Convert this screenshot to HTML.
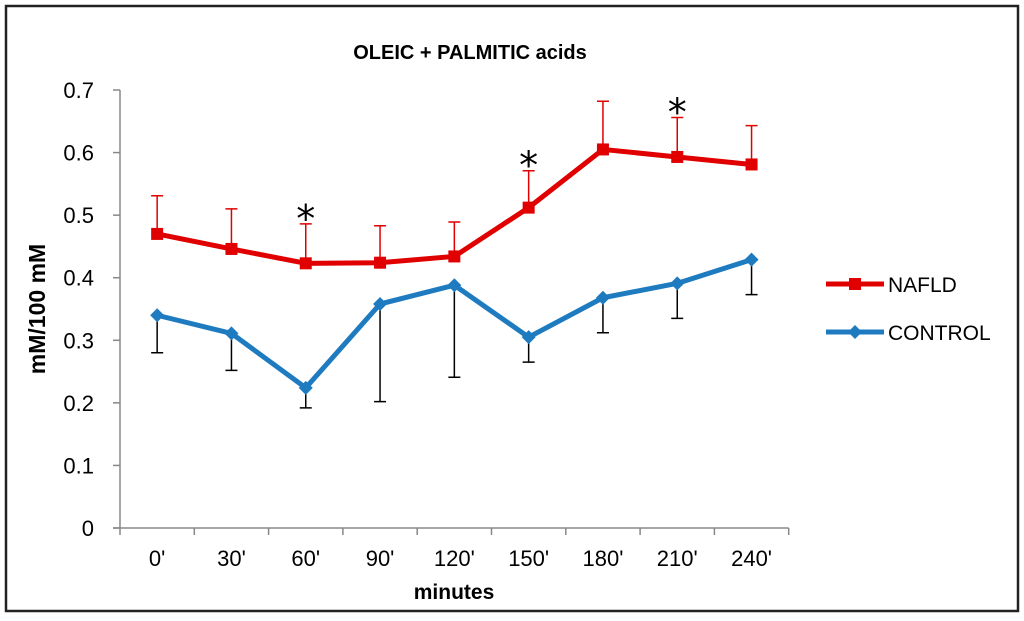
<!DOCTYPE html>
<html><head><meta charset="utf-8"><style>
html,body{margin:0;padding:0;background:#fff;}
svg{display:block;font-family:"Liberation Sans","DejaVu Sans",sans-serif;}
</style></head><body>
<svg id="chart" width="1024" height="621" viewBox="0 0 1024 621">
<rect x="6" y="6" width="1012" height="605" fill="#fff" stroke="#222" stroke-width="2.5"/>
<text x="470" y="59" text-anchor="middle" font-size="20" font-weight="bold">OLEIC + PALMITIC acids</text>
<text transform="translate(45,309) rotate(-90)" text-anchor="middle" font-size="23" font-weight="bold">mM/100 mM</text>
<text x="454" y="599" text-anchor="middle" font-size="21" font-weight="bold">minutes</text>
<g id="axes"></g>
<g id="series"></g>
<g>
<line x1="826" y1="284" x2="884" y2="284" stroke="#e00000" stroke-width="5"/>
<rect x="849" y="278" width="12" height="12" fill="#e00000"/>
<text x="888" y="292" font-size="21">NAFLD</text>
<line x1="826" y1="332" x2="884" y2="332" stroke="#1f7bc0" stroke-width="5"/>
<polygon points="855,325 862,332 855,339 848,332" fill="#1f7bc0"/>
<text x="888" y="340" font-size="21">CONTROL</text>
</g>
</svg>
<script>
const categories = ["0'","30'","60'","90'","120'","150'","180'","210'","240'"];
const nafld = [0.470,0.446,0.423,0.424,0.434,0.512,0.605,0.593,0.581];
const nafldErrUpper = [0.531,0.510,0.486,0.483,0.489,0.571,0.682,0.656,0.643];
const control = [0.340,0.311,0.224,0.358,0.388,0.305,0.368,0.391,0.429];
const controlErrLower = [0.280,0.252,0.192,0.202,0.241,0.265,0.312,0.335,0.373];
const significant = [false,false,true,false,false,true,false,true,false];
const yTicks = [0,0.1,0.2,0.3,0.4,0.5,0.6,0.7];

const NS="http://www.w3.org/2000/svg";
const x0=120, step=74.3, yBase=528, yTop=90, yMax=0.7;
function xPos(i){return x0+step*(i+0.5);}
function yPos(v){return yBase-(v/yMax)*(yBase-yTop);}
function mk(tag,attrs,parent){const e=document.createElementNS(NS,tag);for(const k in attrs)e.setAttribute(k,attrs[k]);parent.appendChild(e);return e;}
const axes=document.getElementById('axes'), series=document.getElementById('series');

let e=mk('line',{x1:x0,y1:yTop,x2:x0,y2:yBase,stroke:'#888','stroke-width':1.5},axes);


e=mk('line',{x1:x0-7,y1:yBase,x2:x0+step*categories.length,y2:yBase,stroke:'#888','stroke-width':1.5},axes);


yTicks.forEach(v=>{
  const y=yPos(v);
  let t=mk('line',{x1:x0-7,y1:y,x2:x0,y2:y,stroke:'#888','stroke-width':1.5},axes);
  
  
  let l=mk('text',{x:x0-26,y:y+8,'text-anchor':'end','font-size':22},axes);
  l.textContent=String(v);
  
  
});
for(let i=0;i<=categories.length;i++){
  const x=x0+step*i;
  let t=mk('line',{x1:x,y1:yBase,x2:x,y2:yBase+7,stroke:'#888','stroke-width':1.5},axes);
  
  
}
categories.forEach((c,i)=>{
  let l=mk('text',{x:xPos(i),y:yBase+38,'text-anchor':'middle','font-size':22},axes);
  l.textContent=c;
  
  
});

nafld.forEach((v,i)=>{
  const x=xPos(i), y1=yPos(v), y2=yPos(nafldErrUpper[i]);
  let g=mk('path',{d:`M${x},${y1}V${y2}M${x-6},${y2}H${x+6}`,stroke:'#e00000','stroke-width':1.5,fill:'none'},series);
  
  
});
control.forEach((v,i)=>{
  const x=xPos(i), y1=yPos(v), y2=yPos(controlErrLower[i]);
  let g=mk('path',{d:`M${x},${y1}V${y2}M${x-6},${y2}H${x+6}`,stroke:'#000','stroke-width':1.5,fill:'none'},series);
  
  
});
let p=mk('polyline',{points:nafld.map((v,i)=>xPos(i)+','+yPos(v)).join(' '),fill:'none',stroke:'#e00000','stroke-width':5,'stroke-linejoin':'round'},series);


p=mk('polyline',{points:control.map((v,i)=>xPos(i)+','+yPos(v)).join(' '),fill:'none',stroke:'#1f7bc0','stroke-width':5,'stroke-linejoin':'round'},series);


nafld.forEach((v,i)=>{
  let m=mk('rect',{x:xPos(i)-6,y:yPos(v)-6,width:12,height:12,fill:'#e00000'},series);
  
  
});
control.forEach((v,i)=>{
  const x=xPos(i),y=yPos(v);
  let m=mk('polygon',{points:`${x},${y-7} ${x+7},${y} ${x},${y+7} ${x-7},${y}`,fill:'#1f7bc0'},series);
  
  
});
significant.forEach((s,i)=>{
  if(!s)return;
  let t=mk('text',{x:xPos(i),y:yPos(nafldErrUpper[i])+8,'text-anchor':'middle','font-size':38,'font-family':'DejaVu Sans, sans-serif'},series);
  t.textContent='*';
  
  
});
</script>
</body></html>
